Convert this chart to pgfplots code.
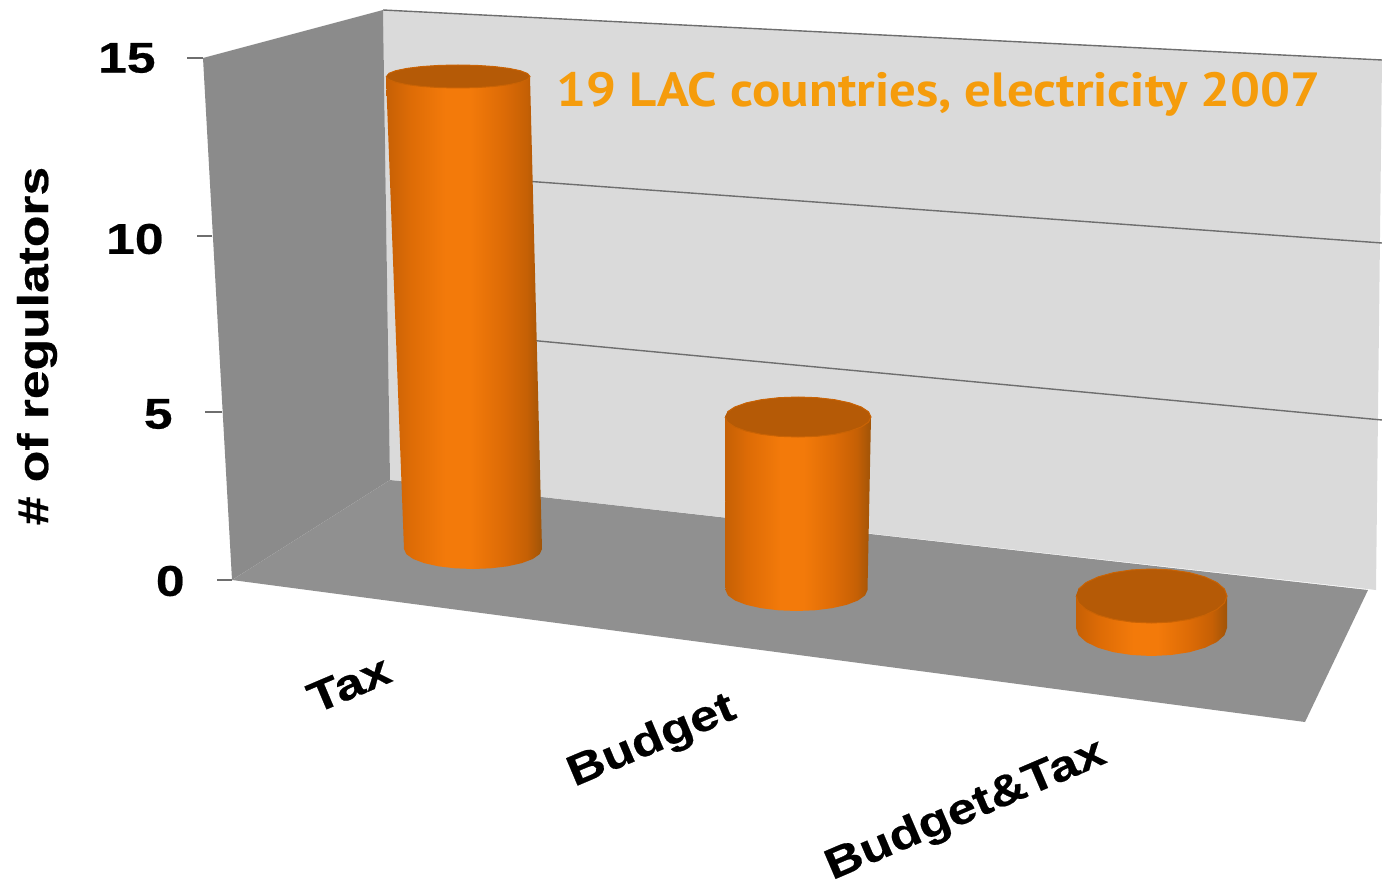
\documentclass[border=0pt]{standalone}
\usepackage{pgfplots}
\usepackage{pgfplotstable}
\usepackage{fontspec}
\pgfplotsset{compat=1.18}
\setmainfont{Liberation Sans}
\newfontfamily\heavy[FakeStretch=1.2,FakeBold=0.5]{Liberation Sans Bold}
\newfontfamily\note[FakeStretch=1.1]{PT Sans Bold}

\definecolor{wallside}{HTML}{8B8B8B}
\definecolor{floorgrey}{HTML}{909090}
\definecolor{wallback}{HTML}{DADADA}
\definecolor{gridgrey}{HTML}{6E6E6E}
\definecolor{captop}{HTML}{B55A06}
\definecolor{caprim}{HTML}{C96305}
\definecolor{noteorange}{HTML}{F59C0C}
\definecolor{sideedge}{HTML}{C66005}
\definecolor{sidemid}{HTML}{DE6C06}
\definecolor{sidebright}{HTML}{F37A0A}
\definecolor{sidedark}{HTML}{A05408}

% shading across the round side of a cylinder
\pgfdeclarehorizontalshading{cylside}{100bp}{
  color(0bp)=(sideedge);
  color(25bp)=(sideedge);
  color(33bp)=(sidemid);
  color(44bp)=(sidebright);
  color(52bp)=(sidebright);
  color(62bp)=(sidemid);
  color(70bp)=(sideedge);
  color(75bp)=(sidedark);
  color(100bp)=(sidedark)}

% regulators per funding source, with the floor position and radii of each cylinder
\pgfplotstableread{
id value xb rb yb ryb xt rt ryt k
0  13    473 69 549 20  458 72 76.5 11.5
}\taxbar
\pgfplotstableread{
id value xb rb yb ryb xt rt ryt k
1  5     796.5 71 590 21 798 73 417 20
}\budgetbar
\pgfplotstableread{
id value xb rb yb ryb xt rt ryt k
2  1     1151.5 75.5 628 28 1151.5 75.5 596 27
}\bothbar

% outline of a cylinder side, unit circle points; h=1 marks the upper end
\pgfplotstableread{
c s h
-1 0 0
-0.9659 0.2588 0
-0.8660 0.5 0
-0.7071 0.7071 0
-0.5 0.8660 0
-0.2588 0.9659 0
0 1 0
0.2588 0.9659 0
0.5 0.8660 0
0.7071 0.7071 0
0.8660 0.5 0
0.9659 0.2588 0
1 0 0
1 0 1
0.9659 -0.2588 1
0.8660 -0.5 1
0.7071 -0.7071 1
0.5 -0.8660 1
0.2588 -0.9659 1
0 -1 1
-0.2588 -0.9659 1
-0.5 -0.8660 1
-0.7071 -0.7071 1
-0.8660 -0.5 1
-0.9659 -0.2588 1
-1 0 1
}\sideoutline
\pgfplotstableread{
c s h
-1 0 1
-0.9659 0.2588 1
-0.8660 0.5 1
-0.7071 0.7071 1
-0.5 0.8660 1
-0.2588 0.9659 1
0 1 1
0.2588 0.9659 1
0.5 0.8660 1
0.7071 0.7071 1
0.8660 0.5 1
0.9659 0.2588 1
1 0 1
0.9659 -0.2588 1
0.8660 -0.5 1
0.7071 -0.7071 1
0.5 -0.8660 1
0.2588 -0.9659 1
0 -1 1
-0.2588 -0.9659 1
-0.5 -0.8660 1
-0.7071 -0.7071 1
-0.8660 -0.5 1
-0.9659 -0.2588 1
}\capoutline

\newcommand{\cell}[3]{\pgfplotstablegetelem{0}{#2}\of#1\let#3\pgfplotsretval}
\newcommand{\cylinder}[1]{%
  \cell{#1}{value}\V \cell{#1}{xb}\XB \cell{#1}{rb}\RB \cell{#1}{yb}\YB
  \cell{#1}{ryb}\RYB \cell{#1}{xt}\XT \cell{#1}{rt}\RT \cell{#1}{ryt}\RYT
  \cell{#1}{k}\KK
  \pgfmathsetmacro{\HT}{(\YB-\RYT)/\V}%
  \addplot[draw=none, shading=cylside] table[
    x expr=\XB+\thisrow{h}*(\XT-\XB)+\thisrow{c}*(\RB+\thisrow{h}*(\RT-\RB)),
    y expr=\YB-\thisrow{h}*\V*\HT+\thisrow{s}*(\RYB+\thisrow{h}*(\KK-\RYB))
  ] {\sideoutline};
  \addplot[draw=caprim, line width=0.5pt, fill=captop] table[
    x expr=\XT+\thisrow{c}*\RT,
    y expr=\YB-\V*\HT+\thisrow{s}*\KK
  ] {\capoutline};
}

\begin{document}
\begin{tikzpicture}
\begin{axis}[
  scale only axis, width=691pt, height=441pt,
  xmin=0, xmax=1382, ymin=0, ymax=882, y dir=reverse,
  axis lines=none, clip=false,
]
% back wall, side wall and floor
\addplot[draw=none, fill=wallback] coordinates {(383,10) (1382,60) (1376,590) (390,480)};
\addplot[draw=none, fill=wallside] coordinates {(203,58) (383,10) (390,480) (232,580)};
\addplot[draw=none, fill=floorgrey] coordinates {(232,580) (390,480) (1368,590) (1305,722)};
% gridlines on the back wall
\addplot[gridgrey, line width=0.7pt] coordinates {(383,10) (1382,60)};
\addplot[gridgrey, line width=0.7pt] coordinates {(400,172) (1382,243)};
\addplot[gridgrey, line width=0.7pt] coordinates {(400,328) (1382,420)};
% tick marks on the side wall
\addplot[gridgrey, line width=0.7pt] coordinates {(187,58) (203,58)};
\addplot[gridgrey, line width=0.7pt] coordinates {(197,236) (212,236)};
\addplot[gridgrey, line width=0.7pt] coordinates {(205,412) (222,412)};
\addplot[gridgrey, line width=0.7pt] coordinates {(217,580) (232,580)};
% cylinders
\cylinder{\taxbar}
\cylinder{\budgetbar}
\cylinder{\bothbar}
% value axis labels
\def\lab{\fontsize{21.5pt}{24pt}\heavy}
\node[anchor=east,inner sep=0pt,font=\lab] at (axis cs:156,58) {15};
\node[anchor=east,inner sep=0pt,font=\lab] at (axis cs:164,239) {10};
\node[anchor=east,inner sep=0pt,font=\lab] at (axis cs:173,414) {5};
\node[anchor=east,inner sep=0pt,font=\lab] at (axis cs:185,581) {0};
\node[rotate=90,inner sep=0pt,font=\lab] at (axis cs:37,346) {\# of regulators};
% category labels
\node[rotate=23,inner sep=0pt,font=\lab] at (axis cs:349,684) {Tax};
\node[rotate=23,inner sep=0pt,font=\lab] at (axis cs:652,742) {Budget};
\node[rotate=23.2,inner sep=0pt,font=\lab] at (axis cs:966,811) {Budget\&Tax};
% handwritten note
\node[anchor=west,inner sep=0pt,text=noteorange,font=\fontsize{24pt}{26pt}\note] at (axis cs:556,94) {19 LAC countries, electricity 2007};
\end{axis}
\pgfresetboundingbox
\useasboundingbox (current axis.south west) rectangle (current axis.north east);
\end{tikzpicture}
\end{document}
